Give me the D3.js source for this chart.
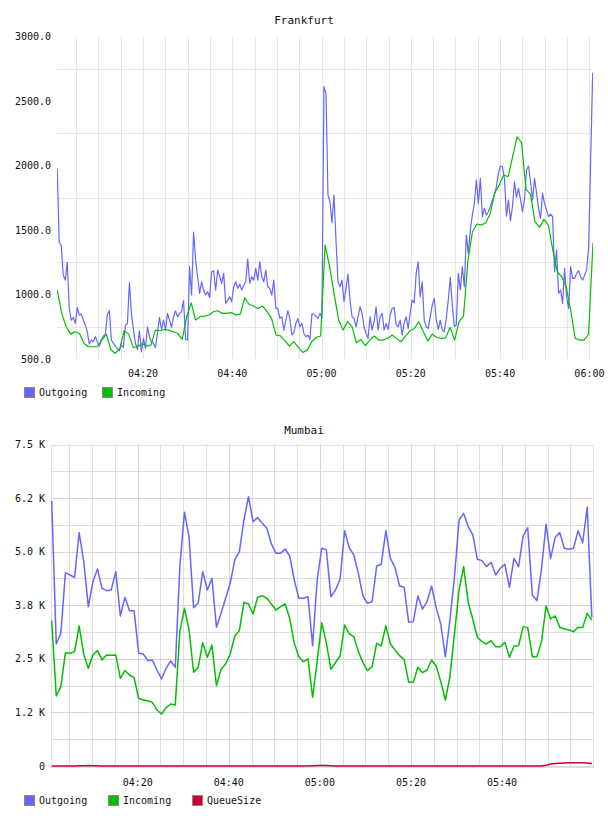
<!DOCTYPE html>
<html>
<head>
<meta charset="utf-8">
<script src="https://d3js.org/d3.v7.min.js"></script>
<style>
  body { margin: 0; background: #fff; }
  svg text { font-family: "DejaVu Sans Mono", monospace; font-size: 10px; fill: #111; }
</style>
</head>
<body>
<svg id="chart" width="608" height="816"></svg>
<script>
"use strict";

// Series names and colours shared by both panels
const seriesNames = ["Outgoing", "Incoming", "QueueSize"];
const seriesColors = ["#6666ff", "#00c000", "#cc0033"];

// ---- Frankfurt ----
const fraTimeDomain = ["04:00:45", "06:00:48"];
const fraYDomain = [500, 3000];
const fraYTicks = [500, 1000, 1500, 2000, 2500, 3000];
const fraYGrid = [750, 1250, 1750, 2250, 2750];
const fraOutStart = "04:00:48";
const fraOutStep = 26.95; // seconds between samples
const fraOutgoing = [
  1978, 1402, 1384, 1151, 1112, 1249, 892, 802, 823, 776,
  900, 841, 848, 802, 763, 711, 616, 647, 634, 673,
  634, 600, 647, 678, 691, 846, 874, 647, 621, 600,
  580, 564, 608, 590, 763, 776, 1092, 854, 729, 621,
  574, 719, 556, 660, 582, 750, 673, 634, 621, 590,
  704, 823, 729, 802, 724, 854, 802, 745, 828, 874,
  828, 854, 867, 952, 652, 647, 1216, 996, 1485, 1267,
  1138, 1009, 1099, 1035, 996, 1022, 978, 1177, 1185, 1035,
  1190, 1143, 1086, 1164, 931, 957, 983, 944, 1060, 1099,
  1048, 1081, 1035, 1073, 1099, 1275, 1086, 1138, 1112, 1203,
  1112, 1254, 1138, 1099, 1190, 1060, 1048, 996, 1112, 892,
  892, 815, 828, 724, 802, 874, 815, 686, 704, 776,
  815, 750, 776, 698, 673, 686, 652, 848, 848, 833,
  815, 854, 823, 2612,
  2560, 1772, 1720, 1557, 1772, 1423, 1099, 1060, 1112, 944,
  1048, 1159, 957, 828, 815, 750, 828, 905, 854, 750,
  698, 660, 828, 724, 789, 905, 724, 828, 854, 724,
  776, 729, 841, 892, 900, 763, 750, 802, 686, 776,
  828, 737, 854, 957, 936, 1164, 1254, 983, 1099, 802,
  750, 737, 828, 918, 970, 802, 729, 802, 724, 711,
  815, 957, 1133, 918, 755, 763, 1164, 1035, 1216, 1060,
  1461, 1319, 1500, 1617, 1707, 1888, 1707, 1901, 1604, 1668,
  1617, 1642, 1681, 1733, 1772, 1836, 1940, 1997, 1991, 1901,
  1609, 1733, 1573, 1681, 1875, 1754, 1823, 1738, 1642, 1733,
  1966, 1997, 1875, 1733, 1901, 1790, 1668, 1591, 1785, 1707,
  1655, 1604, 1624, 1604, 1177, 1345, 1009, 1035, 931, 1203,
  983, 892, 1216, 1125, 1125, 1164, 1185, 1138, 1112, 1151,
  1190, 1371, 2043, 2721
];
const fraInStart = "04:00:48";
const fraInStep = 60;
const fraIncoming = [
  1035, 854, 750, 693, 711, 698, 621, 595, 595, 595,
  647, 693, 574, 543, 582, 719, 693, 590, 595, 621,
  600, 608, 724, 719, 729, 724, 711, 698, 652, 828,
  936, 802, 828, 833, 841, 867, 874, 854, 854, 861,
  841, 848, 975, 923, 911, 892, 911, 867, 815, 686,
  680, 642, 600, 634, 590, 551, 569, 634, 667, 678,
  1384,
  1216, 1009, 807, 724, 789, 755, 626, 652, 603, 647,
  678, 647, 647, 660, 686, 660, 634, 678, 719, 737,
  789, 711, 639, 693, 667, 660, 665, 745, 647, 789,
  833, 1267, 1487, 1547, 1539, 1557, 1629, 1790, 1849, 1927,
  1914, 2069, 2224, 2178, 1816, 1779, 1565, 1521, 1583, 1539,
  1345, 1177, 1138, 1060, 879, 660, 647, 647, 693, 1402
];

// ---- Mumbai ----
const mumTimeDomain = ["04:00:58", "05:59:58"];
const mumYDomain = [0, 7500];
const mumYTicks = [0, 1250, 2500, 3750, 5000, 6250, 7500];
const mumYTickLabels = ["0", "1.2 K", "2.5 K", "3.8 K", "5.0 K", "6.2 K", "7.5 K"];
const mumYGrid = [625, 1875, 3125, 4375, 5625, 6875];
const mumStart = "04:01:07";
const mumStep = 60.3;
const mumOutgoing = [
  6190, 2846, 3095, 4511, 4456, 4402, 5444, 4767, 3717, 4300,
  4596, 4145, 4090, 4106, 4534, 3500, 3935, 3624, 3624, 2629,
  2613, 2457, 2473, 2240, 2030, 2279, 2450, 2302, 4651, 5918,
  5351, 3694, 3795, 4534, 4106, 4378, 3235, 3562, 3912, 4262,
  4806, 5000, 5739, 6284, 5700, 5793, 5661, 5545, 5180, 4961,
  4961, 5063, 4899, 4339, 3912, 3912, 3950, 2807, 4339, 5078,
  5047, 3950, 4106, 4355, 5490, 5094, 4923, 4495, 3966, 3795,
  3834, 4666, 4705, 5490, 4845, 4635, 4199, 4168, 3352, 3368,
  3966, 3663, 3834, 4199, 3694, 3313, 2551, 3406, 4417, 5739,
  5895, 5584, 5390, 4822, 4791, 4651, 4752, 4456, 4612, 4705,
  4168, 4845, 4651, 5366, 5560, 3989, 3857, 4589, 5638, 4845,
  5335, 5444, 5078, 5055, 5078, 5490, 5210, 6035, 3468
];
const mumIncoming = [
  3391, 1633, 1851, 2644, 2629, 2668, 3266, 2613, 2279, 2590,
  2691, 2473, 2590, 2582, 2590, 2046, 2225, 2123, 2061, 1579,
  1540, 1524, 1485, 1306, 1213, 1361, 1446, 1423, 3134, 3678,
  3189, 2186, 2302, 2878, 2535, 2823, 1874, 2256, 2380, 2613,
  3033, 3158, 3818, 3780, 3546, 3935, 3974, 3912, 3780, 3640,
  3717, 3780, 3445, 2862, 2551, 2434, 2497, 1602, 2434, 3344,
  2878, 2256, 2411, 2566, 3290, 3080, 3018, 2668, 2411, 2225,
  2318, 2862, 2800, 3274, 2846, 2706, 2574, 2489, 1952, 1952,
  2302, 2178, 2240, 2473, 2333, 1968, 1540, 2085, 3095, 4106,
  4651, 3811, 3422, 3002, 2901, 2846, 2924, 2784, 2784, 2885,
  2535, 2800, 2807, 3251, 3228, 2551, 2551, 2901, 3733, 3430,
  3500, 3235, 3196, 3173, 3134, 3235, 3228, 3562, 3406
];
const mumQueue = [
  0, 0, 0, 0, 0, 0, 4, 8, 10, 8,
  4, 0, 0, 0, 0, 0, 0, 0, 0, 0,
  0, 0, 0, 0, 0, 0, 0, 0, 0, 0,
  0, 0, 0, 0, 0, 0, 0, 0, 0, 0,
  0, 0, 0, 0, 0, 0, 0, 0, 0, 0,
  0, 0, 0, 0, 0, 0, 0, 4, 10, 12,
  10, 6, 2, 0, 0, 0, 0, 0, 0, 0,
  0, 0, 0, 0, 0, 0, 0, 0, 0, 0,
  0, 0, 0, 0, 0, 0, 0, 0, 0, 0,
  0, 0, 0, 0, 0, 0, 0, 0, 0, 0,
  0, 0, 0, 0, 0, 0, 0, 0, 15, 45,
  60, 65, 70, 74, 77, 78, 76, 70, 50
];

const parseTime = d3.timeParse("%H:%M:%S");

/**
 * Turns a list of regularly sampled values into {date, value} points.
 *
 * @param start         Time of the first sample, "HH:MM:SS".
 * @param stepSeconds   Seconds between two samples.
 * @param values        The sampled values.
 */
function toPoints(start, stepSeconds, values) {
  let t0 = +parseTime(start);
  return values.map((v, i) => ({ date: new Date(t0 + i * stepSeconds * 1000), value: v }));
}

/**
 * Draws one panel (title, grid, axes labels, lines and legend).
 *
 * @param svg   The root SVG selection.
 * @param p     Panel settings.
 */
function drawPanel(svg, p) {
  let x = d3.scaleTime()
    .domain(p.timeDomain.map(parseTime))
    .range([p.left, p.right]);
  let y = d3.scaleLinear()
    .domain(p.yDomain)
    .range([p.bottom, p.top]);

  let g = svg.append("g").attr("id", p.id);
  let crisp = v => Math.round(v) + 0.5;

  g.append("text")
    .attr("x", (p.left + p.right) / 2 + p.titleShift)
    .attr("y", p.titleY)
    .attr("text-anchor", "middle")
    .style("font-size", "11px")
    .text(p.title);

  // minor grid
  let minorTimes = x.ticks(d3.timeMinute.every(5))
    .filter(t => !p.majorColor || t.getMinutes() % 20 != 0);
  g.append("g").selectAll("line")
    .data(minorTimes)
    .enter()
    .append("line")
    .attr("x1", d => crisp(x(d)))
    .attr("x2", d => crisp(x(d)))
    .attr("y1", p.top)
    .attr("y2", p.bottom)
    .attr("stroke", p.minorColor);

  g.append("g").selectAll("line")
    .data(p.yGrid)
    .enter()
    .append("line")
    .attr("x1", p.left)
    .attr("x2", p.right)
    .attr("y1", d => crisp(y(d)))
    .attr("y2", d => crisp(y(d)))
    .attr("stroke", p.minorColor);

  // major grid (only on the Mumbai panel)
  if (p.majorColor) {
    g.append("g").selectAll("line")
      .data(x.ticks(d3.timeMinute.every(20)))
      .enter()
      .append("line")
      .attr("x1", d => crisp(x(d)))
      .attr("x2", d => crisp(x(d)))
      .attr("y1", p.top)
      .attr("y2", p.bottom)
      .attr("stroke", p.majorColor);

    g.append("g").selectAll("line")
      .data(p.yTicks)
      .enter()
      .append("line")
      .attr("x1", p.left)
      .attr("x2", p.right)
      .attr("y1", d => crisp(y(d)))
      .attr("y2", d => crisp(y(d)))
      .attr("stroke", p.majorColor);

    g.append("rect")
      .attr("x", crisp(p.left))
      .attr("y", crisp(p.top))
      .attr("width", Math.round(p.right - p.left))
      .attr("height", Math.round(p.bottom - p.top))
      .attr("fill", "none")
      .attr("stroke", p.borderColor);
  }

  // y labels
  g.append("g").selectAll("text")
    .data(p.yTicks)
    .enter()
    .append("text")
    .attr("x", p.yLabelX)
    .attr("y", d => y(d))
    .attr("dy", "0.35em")
    .attr("text-anchor", "end")
    .text((d, i) => p.yLabels[i]);

  // x labels
  g.append("g").selectAll("text")
    .data(x.ticks(d3.timeMinute.every(20)))
    .enter()
    .append("text")
    .attr("x", d => x(d))
    .attr("y", p.xLabelY)
    .attr("text-anchor", "middle")
    .text(d3.timeFormat("%H:%M"));

  // series
  let clipId = p.id + "-clip";
  g.append("clipPath")
    .attr("id", clipId)
    .append("rect")
    .attr("x", p.left)
    .attr("y", p.top - 2)
    .attr("width", p.right - p.left)
    .attr("height", p.bottom - p.top + 4);

  let line = d3.line()
    .x(d => x(d.date))
    .y(d => y(d.value));

  g.append("g")
    .attr("clip-path", "url(#" + clipId + ")")
    .selectAll("path")
    .data(p.series)
    .enter()
    .append("path")
    .attr("d", d => line(d.points))
    .attr("fill", "none")
    .attr("stroke", d => seriesColors[d.index])
    .attr("stroke-width", p.strokeWidth)
    .attr("stroke-linejoin", "round");

  // legend
  let item = g.append("g").selectAll("g")
    .data(p.series)
    .enter()
    .append("g")
    .attr("transform", (d, i) => "translate(" + p.legendX[i] + "," + p.legendY + ")");

  item.append("rect")
    .attr("x", 0.5)
    .attr("y", 0.5)
    .attr("width", 10)
    .attr("height", 10)
    .attr("fill", d => seriesColors[d.index])
    .attr("stroke", "#888");

  item.append("text")
    .attr("x", 15)
    .attr("y", 9)
    .text(d => seriesNames[d.index]);
}

let svg = d3.select("#chart");

drawPanel(svg, {
  id: "frankfurt",
  title: "Frankfurt",
  titleY: 24,
  titleShift: -21,
  left: 57, right: 593, top: 36.7, bottom: 359,
  timeDomain: fraTimeDomain,
  yDomain: fraYDomain,
  yTicks: fraYTicks,
  yLabels: fraYTicks.map(d3.format(".1f")),
  yGrid: fraYGrid,
  yLabelX: 51,
  xLabelY: 377,
  minorColor: "#e6e6e6",
  strokeWidth: 1.2,
  series: [
    { index: 0, points: toPoints(fraOutStart, fraOutStep, fraOutgoing) },
    { index: 1, points: toPoints(fraInStart, fraInStep, fraIncoming) }
  ],
  legendX: [24, 102],
  legendY: 387
});

drawPanel(svg, {
  id: "mumbai",
  title: "Mumbai",
  titleY: 434,
  titleShift: -18,
  left: 51, right: 593, top: 444.5, bottom: 766,
  timeDomain: mumTimeDomain,
  yDomain: mumYDomain,
  yTicks: mumYTicks,
  yLabels: mumYTickLabels,
  yGrid: mumYGrid,
  yLabelX: 45,
  xLabelY: 786,
  minorColor: "#dddddd",
  majorColor: "#e3cde3",
  borderColor: "#ecd9ec",
  strokeWidth: 1.5,
  series: [
    { index: 0, points: toPoints(mumStart, mumStep, mumOutgoing) },
    { index: 1, points: toPoints(mumStart, mumStep, mumIncoming) },
    { index: 2, points: toPoints(mumStart, mumStep, mumQueue) }
  ],
  legendX: [24, 108, 192],
  legendY: 795
});
</script>
</body>
</html>
